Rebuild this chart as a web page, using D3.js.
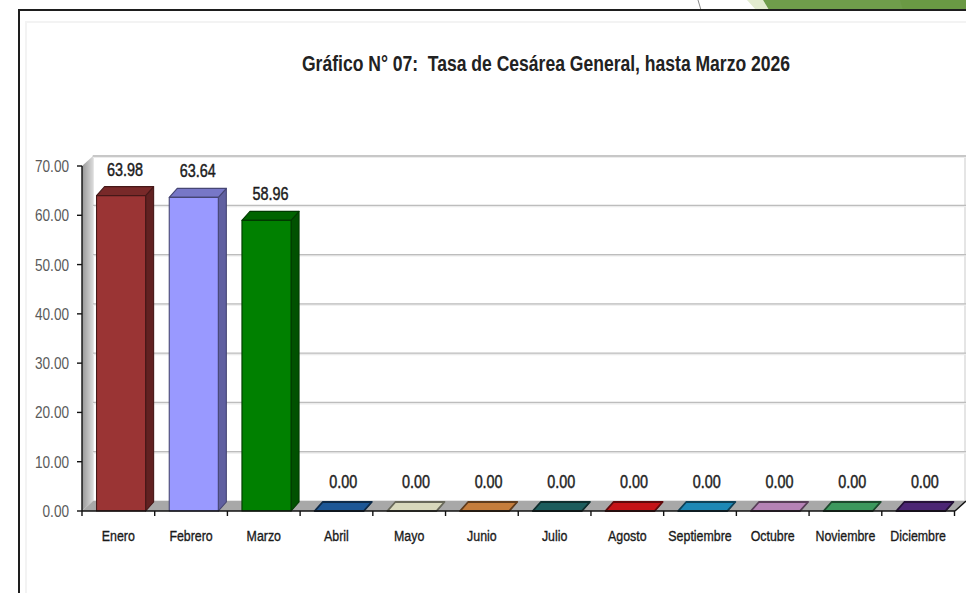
<!DOCTYPE html>
<html><head><meta charset="utf-8">
<script src="https://cdn.jsdelivr.net/npm/d3@7"></script>
<style>html,body{margin:0;padding:0;background:#fff;overflow:hidden}text{white-space:pre}</style>
</head><body><svg id="c" width="966" height="593"></svg>
<script>
const titleText = "Gráfico N° 07:  Tasa de Cesárea General, hasta Marzo 2026";
const months = ["Enero","Febrero","Marzo","Abril","Mayo","Junio","Julio","Agosto","Septiembre","Octubre","Noviembre","Diciembre"];
const values = [63.98,63.64,58.96,0,0,0,0,0,0,0,0,0];
const valueLabels = ["63.98","63.64","58.96","0.00","0.00","0.00","0.00","0.00","0.00","0.00","0.00","0.00"];
const barColors = ["#9a3434","#9999ff","#008000","#1f5c9e","#e4e4c6","#d0843f","#1e6262","#d01418","#1f8fc0","#c08ac0","#3fa062","#50287a"];
const yTicks = [0,10,20,30,40,50,60,70];
const yTickLabels = ["0.00","10.00","20.00","30.00","40.00","50.00","60.00","70.00"];

const svg = d3.select("#c");
const FONT = "'Liberation Sans', Arial, sans-serif";
const SX = 0.8;
const DX = 11, DY = 10;      // wall depth
const BDX = 8, BDY = 9;      // bar depth

const y = d3.scaleLinear().domain([0,70]).range([511,166]);
const x = d3.scaleBand().domain(months).range([82,954.5]).paddingInner(0).paddingOuter(0);
const bw = x.bandwidth();

function ctext(g, px, py, str, size, o){
  o = o || {};
  const t = g.append("text")
    .attr("transform", `translate(${px},${py}) scale(${o.sx||SX},1)`)
    .attr("text-anchor", o.anchor||"middle")
    .attr("font-family", FONT)
    .attr("font-size", size)
    .attr("font-weight", o.weight||"normal")
    .attr("fill", o.fill||"#1a1a1a")
    .attr("xml:space","preserve")
    .text(str);
  if (o.heavy) t.attr("stroke", o.fill||"#1a1a1a").attr("stroke-width", o.heavy);
  return t;
}

// top decoration outside frame
svg.append("line").attr("x1",698).attr("y1",0).attr("x2",701).attr("y2",10).attr("stroke","#8a8a8a").attr("stroke-width",1);
svg.append("polygon").attr("points","747,0 763,0 769,10 756,10").attr("fill","#e3ecd0");
svg.append("polygon").attr("points","763,0 966,0 966,10 769,10").attr("fill","#6f9d4b");
svg.append("polygon").attr("points","900,0 966,0 966,10 903,10").attr("fill","#6a9944");

// frame
svg.append("line").attr("x1",18).attr("y1",10).attr("x2",966).attr("y2",10).attr("stroke","#1e1e1e").attr("stroke-width",2);
svg.append("line").attr("x1",19).attr("y1",9).attr("x2",19).attr("y2",593).attr("stroke","#1e1e1e").attr("stroke-width",2);
svg.append("path").attr("d","M26,593 V22 H966").attr("fill","none").attr("stroke","#f3f3f3").attr("stroke-width",2);

// title
ctext(svg, 546, 71, titleText, 22.5, {weight:"bold", fill:"#222", sx:0.78});

const defs = svg.append("defs");
const lg = defs.append("linearGradient").attr("id","wallL").attr("x1","0").attr("x2","1").attr("y1","0").attr("y2","0");
lg.append("stop").attr("offset","0").attr("stop-color","#979797");
lg.append("stop").attr("offset","1").attr("stop-color","#d9d9d9");

// back wall
svg.append("rect").attr("x",82+DX).attr("y",y(70)-DY).attr("width",965-(82+DX)).attr("height",y(0)-y(70))
  .attr("fill","#fff").attr("stroke","#d4d4d4").attr("stroke-width",1.2);
// gridlines on back wall
const grid = svg.append("g");
yTicks.filter(v=>v>0).forEach(v=>{
  grid.append("line").attr("x1",82+DX).attr("x2",966).attr("y1",y(v)-DY+1).attr("y2",y(v)-DY+1).attr("stroke","#ececec").attr("stroke-width",2);
  grid.append("line").attr("x1",82+DX).attr("x2",966).attr("y1",y(v)-DY).attr("y2",y(v)-DY).attr("stroke","#bdbdbd").attr("stroke-width",1.3);
});
// left wall
svg.append("polygon").attr("points",`82,${y(70)} ${82+DX},${y(70)-DY} ${82+DX},${y(0)-DY} 82,${y(0)}`).attr("fill","url(#wallL)");
// floor
svg.append("polygon").attr("points",`82,${y(0)} 955,${y(0)} 966,${y(0)-DY} ${82+DX},${y(0)-DY}`).attr("fill","#a8a8a8");

// bars
const bars = svg.append("g");
months.forEach((m,i)=>{
  const v = values[i];
  const c = d3.color(barColors[i]);
  const x0 = x(m) + bw*0.2, w = bw*0.675;
  const yt = y(v), yb = y(0);
  const stroke = c.darker(2.2).formatHex();
  const g = bars.append("g").attr("stroke",stroke).attr("stroke-width",1.1).attr("stroke-linejoin","round");
  g.append("polygon").attr("points",`${x0+w},${yb} ${x0+w+BDX},${yb-BDY} ${x0+w+BDX},${yt-BDY} ${x0+w},${yt}`)
    .attr("fill",c.darker(1.3).formatHex());
  g.append("polygon").attr("points",`${x0},${yt} ${x0+w},${yt} ${x0+w+BDX},${yt-BDY} ${x0+BDX},${yt-BDY}`)
    .attr("fill",c.darker(v>0?0.7:0.15).formatHex()).attr("stroke-width", v>0?1.1:1.8);
  if (v>0) g.append("rect").attr("x",x0).attr("y",yt).attr("width",w).attr("height",yb-yt).attr("fill",c.formatHex());
  ctext(svg, x0 + w/2 + 4, (v>0 ? yt-20 : yt-23), valueLabels[i], 18, {fill:"#1c1c1c", heavy:0.45});
});

// axes
const ax = svg.append("g").attr("stroke","#111").attr("stroke-width",1.4);
ax.append("line").attr("x1",82).attr("x2",82).attr("y1",y(70)).attr("y2",y(0));
ax.append("line").attr("x1",82).attr("x2",955).attr("y1",y(0)).attr("y2",y(0));
ax.append("line").attr("x1",955).attr("x2",966).attr("y1",y(0)).attr("y2",y(0)-DY);
yTicks.forEach(v=>{
  ax.append("line").attr("x1",77).attr("x2",82).attr("y1",y(v)).attr("y2",y(v));
});
months.forEach(m=>{
  ax.append("line").attr("x1",x(m)).attr("x2",x(m)).attr("y1",y(0)).attr("y2",y(0)+5);
});
ax.append("line").attr("x1",954.5).attr("x2",954.5).attr("y1",y(0)).attr("y2",y(0)+5);

// y tick labels
yTicks.forEach((v,i)=>{
  ctext(svg, 69, y(v)+6, yTickLabels[i], 17, {anchor:"end", fill:"#5a5a5a"});
});
// category labels
months.forEach(m=>{
  ctext(svg, x(m)+bw/2, 541, m, 15.5, {fill:"#1a1a1a", heavy:0.35});
});
</script></body></html>
